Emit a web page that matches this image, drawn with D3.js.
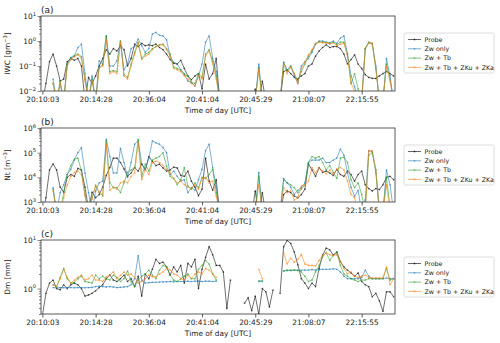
<!DOCTYPE html>
<html>
<head>
<meta charset="utf-8">
<script src="https://cdn.jsdelivr.net/npm/d3@7"></script>
<style>
  body { margin: 0; background: #fff; }
  text { font-family: "DejaVu Sans", sans-serif; fill: #222; }
</style>
</head>
<body>
<script>
const width = 500;
const height = 343;
const _ = null;

// sample index of each labelled tick and its label
const timeTicks = [0, 15, 30, 45, 60, 75, 90];
const timeLabels = ['20:10:03', '20:14:28', '20:36:04', '20:41:04', '20:45:29', '21:08:07', '22:15:55'];

const seriesNames = ['Probe', 'Zw only', 'Zw + Tb', 'Zw + Tb + ZKu + ZKa'];
const seriesColors = ['#000000', '#1f77b4', '#2ca02c', '#ff7f0e'];

// (a) IWC [g m-3]
const iwcProbe = [
  0.004, 0.02, 0.15, 0.3, 0.1, 0.025, 0.03, 0.15, 0.2, 0.17,
  0.2, 0.1, 0.004, 0.035, 0.02, 0.04, 0.1, 0.2, 0.45, 0.3,
  0.5, 0.4, 0.65, 0.45, 0.1, 0.2, 0.75, 0.6, 0.8, 0.65,
  0.7, 0.65, 0.75, 0.55, 0.45, 0.3, 0.18, 0.13, 0.12, 0.17,
  0.08, 0.04, 0.028, 0.04, 0.05, 0.012, 0.12, 0.03, 0.05, 0.2,
  0.004, 0.004, 0.004, 0.004, 0.004, 0.004, 0.004, 0.004, 0.004, 0.004,
  0.012, 0.004, 0.025, 0.004, 0.004, 0.004, 0.004, 0.004, 0.06, 0.07,
  0.05, 0.035, 0.03, 0.04, 0.05, 0.1, 0.12, 0.25, 0.4, 0.55,
  0.7, 0.55, 0.6, 0.6, 0.5, 0.3, 0.12, 0.18, 0.28, 0.12,
  0.08, 0.045, 0.035, 0.032, 0.032, 0.04, 0.05, 0.06, 0.05, 0.04
];
const iwcZw = [
  _, _, _, 0.03, 0.004, 0.02, 0.004, 0.12, 0.22, 0.25,
  0.55, 0.75, 0.05, 0.004, 0.04, 0.004, 0.16, 0.12, 1.6, 0.1,
  0.1, 0.16, 1.0, 0.07, 0.12, 0.5, 0.6, 1.2, 0.65, 0.35,
  0.5, 1.9, 2.2, 1.7, 1.6, 1.1, 0.25, 0.14, 0.12, 0.07,
  0.05, 0.025, 0.022, 0.016, 0.04, 0.12, 0.9, 1.6, 0.2, 0.06,
  0.004, _, _, _, _, _, _, _, _, _,
  0.004, 0.12, 0.004, _, _, _, _, 0.004, 0.14, 0.07,
  0.1, 0.04, 0.02, 0.1, 0.15, 0.2, 0.35, 0.75, 1.0, 1.0,
  0.9, 0.85, 1.0, 0.8, 1.3, 1.6, 0.3, 0.04, 0.015, 0.004,
  0.004, 0.5, 0.9, 0.8, 0.1, 0.004, 0.004, 0.2, 0.04, 0.004
];
const iwcZwTb = [
  _, _, _, 0.02, 0.004, 0.025, 0.004, 0.12, 0.2, 0.26,
  0.3, 0.24, 0.03, 0.004, 0.03, 0.004, 0.09, 0.11, 1.6, 0.06,
  0.065, 0.06, 1.0, 0.045, 0.035, 0.12, 0.35, 0.9, 0.2, 0.3,
  0.35, 0.5, 0.6, 0.7, 0.75, 0.5, 0.3, 0.09, 0.08, 0.07,
  0.045, 0.04, 0.022, 0.02, 0.05, 0.035, 0.3, 0.45, 0.15, 0.04,
  0.004, _, _, _, _, _, _, _, _, _,
  0.004, 0.09, 0.004, _, _, _, _, 0.004, 0.14, 0.06,
  0.1, 0.05, 0.025, 0.06, 0.12, 0.25, 0.4, 0.75, 0.95, 0.9,
  0.85, 0.8, 0.9, 0.7, 0.9, 0.9, 0.3, 0.02, 0.05, 0.012,
  0.004, 0.5, 0.85, 0.75, 0.08, 0.004, 0.004, 0.12, 0.03, 0.004
];
const iwcAll = [
  _, _, _, 0.02, 0.004, 0.02, 0.004, 0.1, 0.18, 0.23,
  0.28, 0.2, 0.025, 0.004, 0.025, 0.004, 0.08, 0.1, 1.1, 0.05,
  0.06, 0.05, 0.9, 0.04, 0.03, 0.1, 0.3, 0.85, 0.18, 0.25,
  0.3, 0.45, 0.6, 0.7, 0.7, 0.45, 0.25, 0.08, 0.07, 0.06,
  0.04, 0.03, 0.02, 0.016, 0.04, 0.03, 0.25, 0.4, 0.12, 0.03,
  0.004, _, _, _, _, _, _, _, _, _,
  0.004, 0.07, 0.004, _, _, _, _, 0.004, 0.12, 0.05,
  0.09, 0.05, 0.02, 0.08, 0.14, 0.28, 0.45, 0.8, 0.9, 0.85,
  0.85, 0.75, 0.85, 0.65, 0.75, 0.8, 0.25, 0.02, 0.01, 0.004,
  0.004, 0.45, 0.85, 0.8, 0.07, 0.004, 0.004, 0.1, 0.025, 0.004
];

// (b) Nt [m-3]
const ntProbe = [
  300, 1500, 2e4, 3.5e4, 2e4, 4000, 2500, 1e4, 1.3e4, 1.1e4,
  2.3e4, 2e4, 4000, 500, 2500, 1500, 2000, 4000, 1.2e4, 2.5e4,
  6e4, 6e4, 4e4, 2.2e4, 1.1e4, 1.5e4, 2.5e4, 1.8e4, 3.5e4, 2e4,
  7e4, 4.5e4, 3e4, 3.4e4, 2.4e4, 1.8e4, 2e4, 2.6e4, 2.4e4, 1.2e4,
  1.1e4, 1.8e4, 7000, 4000, 1800, 3300, 6e4, 7000, 3000, 8000,
  300, 300, 300, 300, 300, 300, 300, 300, 300, 300,
  2800, 300, 2400, 300, 300, 300, 300, 300, 2000, 2800,
  2400, 1750, 1500, 2000, 3300, 3.5e4, 2e4, 1.1e4, 2.5e4, 1.6e4,
  1.8e4, 1.5e4, 1.2e4, 2.1e4, 1.3e4, 1.1e4, 1.8e4, 1.3e4, 7000, 1.3e4,
  1.8e4, 5000, 3500, 2800, 3500, 3200, 5000, 1e4, 1.1e4, 8000
];
const ntZw = [
  _, _, _, 3800, 400, 2400, 5000, 1.3e4, 2.1e4, 5e4,
  1e5, 1.6e5, 1.5e4, 2400, 400, 2800, 6000, 7000, 3.5e5, 7e4,
  1.5e4, 1.5e4, 1.5e5, 4e4, 1e4, 4e4, 2.2e5, 3e5, 3.5e4, 2.1e4,
  6e4, 3e5, 2.5e5, 2.2e5, 1.6e5, 1e5, 1.3e4, 1.8e4, 1.1e4, 7000,
  8000, 2400, 3800, 3000, 8000, 2.1e4, 1.2e5, 2.2e5, 2.5e4, 4000,
  400, _, _, _, _, _, _, _, _, _,
  400, 1.6e4, 400, _, _, _, _, 400, 9000, 6000,
  4000, 2000, 3000, 3800, 6000, 4e4, 5e4, 5e4, 5e4, 6e4,
  4e4, 4e4, 5e4, 6e4, 1.4e5, 8e4, 1.5e4, 4000, 1700, 3000,
  400, 1200, 1.2e5, 1.1e5, 2e4, 400, 400, 2e4, 5000, 400
];
const ntZwTb = [
  _, _, _, 3300, 400, 400, 2400, 1.3e4, 3e4, 5.5e4,
  6e4, 1.8e4, 2000, 400, 1500, 4500, 2400, 1750, 3e5, 6000,
  3800, 3800, 2400, 6000, 1.6e4, 2e4, 2.5e4, 3.5e5, 1.1e4, 3.4e4,
  1.8e4, 5e4, 6e4, 7e4, 1e5, 2.8e4, 1.1e4, 9000, 5000, 8000,
  2.5e4, 4500, 3300, 6000, 3800, 1e4, 9000, 1.3e4, 2.1e4, 2400,
  400, _, _, _, _, _, _, _, _, _,
  400, 1.1e4, 400, _, _, _, _, 400, 8000, 6000,
  5000, 3800, 2400, 3300, 5000, 4e4, 7e4, 6e4, 7e4, 4e4,
  2e4, 3e4, 1.6e4, 9000, 6e4, 6.5e4, 4e4, 8000, 3800, 6000,
  2000, 400, 8e4, 1e5, 1.5e4, 400, 400, 1e4, 600, 400
];
const ntAll = [
  _, _, _, 2800, 400, 400, 1500, 5000, 1.1e4, 1.6e4,
  1.8e4, 1.3e4, 1750, 400, 1300, 5000, 2500, 2000, 2.2e5, 3000,
  4000, 3300, 6000, 7000, 6000, 1.1e4, 1.5e4, 2.5e5, 8000, 2.1e4,
  1.3e4, 4e4, 4.5e4, 4e4, 3e4, 2.1e4, 1.5e4, 9000, 6000, 7000,
  5000, 4000, 3500, 5000, 3300, 9000, 1e4, 6000, 7000, 1700,
  400, _, _, _, _, _, _, _, _, _,
  400, 5000, 400, _, _, _, _, 400, 3800, 2400,
  2800, 1200, 1500, 4500, 5000, 7000, 2.5e4, 1.5e4, 2.5e4, 1.8e4,
  1.4e4, 2e4, 1.3e4, 2.1e4, 2.5e4, 2e4, 7000, 2000, 1500, 400,
  400, 400, 1.2e5, 1.2e5, 2e4, 400, 400, 5000, 400, 400
];

// (c) Dm [mm]
const dmProbe = [
  0.28, 0.8, 1.3, 1.5, 1.0, 0.95, 1.2, 1.0, 1.2, 1.3,
  1.2, 1.0, 0.7, 0.74, 0.8, 0.9, 1.05, 1.2, 1.6, 1.9,
  1.5, 1.4, 1.6, 1.9, 1.4, 1.6, 1.1, 1.8, 0.7, 2.0,
  1.6, 2.5, 4.0, 3.3, 3.5, 2.8, 1.9, 2.8, 2.2, 3.0,
  1.3, 3.3, 2.8, 4.0, 1.0, 2.5, 4.4, 7.3, 5.0, 3.0,
  3.0, 2.2, 0.39, 1.5, _, _, _, 0.5, 0.65, 0.35,
  0.7, 0.3, 1.0, 0.86, 0.42, 0.93, _, 0.8, 7.3, 9.8,
  8.5, 5.7, 3.1, 1.6, 1.3, 1.0, 1.3, 1.1, 2.6, 4.9,
  6.8, 6.3, 4.9, 5.7, 3.6, 2.8, 2.4, 2.1, 1.8, 2.1,
  1.4, 1.2, 1.1, 0.68, 0.8, 0.56, 0.34, 0.86, 0.86, 0.68
];
const dmZw = [
  _, _, _, 1.05, 1.04, 1.05, 1.04, 1.05, 1.05, 1.04,
  1.05, 1.05, 1.04, 1.05, 1.06, 1.1, 1.12, 1.1, 1.08, 1.1,
  1.08, 1.05, 1.06, 1.08, 1.1, 1.2, 1.6, 4.8, 1.5, 1.3,
  1.32, 1.35, 1.35, 1.36, 1.38, 1.38, 1.4, 1.38, 1.4, 1.4,
  1.4, 1.42, 1.4, 1.42, 1.42, 1.4, 1.42, 1.42, 1.4, 1.42,
  _, _, _, _, _, _, _, _, _, _,
  _, 1.4, 1.45, _, _, _, _, _, 2.3, 2.35,
  2.35, 2.4, 2.35, 2.4, 2.4, 2.4, 2.45, 2.4, 2.45, 2.5,
  2.5, 2.5, 2.55, 2.5, 2.2, 1.8, 1.6, 1.6, 1.6, 1.6,
  1.7, 2.4, 1.8, 1.6, 1.6, 1.6, 1.6, 1.65, 1.6, 1.6
];
const dmZwTb = [
  _, _, _, 1.2, 1.1, 1.7, 2.6, 1.6, 1.3, 1.35,
  1.6, 1.8, 1.4, 1.35, 1.3, 1.9, 1.6, 1.8, 1.6, 1.5,
  1.9, 1.7, 1.4, 1.6, 2.3, 1.4, 1.1, 1.5, 1.8, 2.0,
  2.4, 1.9, 1.6, 2.4, 3.0, 2.8, 1.9, 1.5, 1.4, 1.6,
  1.8, 2.0, 1.6, 1.6, 2.5, 3.0, 3.8, 3.2, 2.0, 1.5,
  _, _, _, _, _, _, _, _, _, _,
  _, 1.45, 1.4, _, _, _, _, _, 2.3, 2.4,
  2.4, 2.4, 2.4, 2.2, 1.8, 1.4, 1.5, 2.2, 3.0, 4.5,
  5.5, 3.8, 4.8, 5.5, 3.0, 2.0, 1.8, 1.6, 1.5, 1.4,
  1.5, 1.5, 1.6, 1.6, 1.6, 1.6, 1.6, 2.6, 1.5, 1.6
];
const dmAll = [
  _, _, _, 1.2, 1.1, 1.6, 2.5, 1.7, 1.3, 1.5,
  1.7, 1.9, 1.5, 1.6, 1.9, 1.5, 1.5, 1.4, 1.75, 1.9,
  2.2, 1.6, 1.9, 2.2, 1.9, 2.0, 1.7, 1.3, 1.4, 1.6,
  1.9, 1.75, 1.75, 2.0, 2.2, 2.6, 2.4, 2.0, 1.9, 1.6,
  1.5, 1.9, 1.6, 2.0, 2.2, 2.0, 2.6, 2.4, 2.0, 1.7,
  _, _, _, _, _, _, _, _, _, _,
  _, 2.5, 1.6, _, _, _, _, _, 5.5, 3.2,
  4.2, 3.5, 4.0, 5.0, 3.2, 3.0, 3.0, 2.9, 3.8, 4.8,
  5.4, 5.0, 4.8, 5.0, 3.6, 2.6, 2.0, 2.2, 1.8, 1.7,
  1.8, 1.9, 1.7, 1.65, 1.65, 1.65, 1.65, 2.8, 1.2, 1.6
];

const panels = [
  { tag: '(a)', label: ['IWC [gm', '\u22123', ']'], domain: [0.01, 10], top: 16, bottom: 91,
    series: [iwcProbe, iwcZw, iwcZwTb, iwcAll] },
  { tag: '(b)', label: ['Nt [m', '\u22123', ']'], domain: [1e3, 1e6], top: 128, bottom: 202,
    series: [ntProbe, ntZw, ntZwTb, ntAll] },
  { tag: '(c)', label: ['Dm [mm]'], domain: [0.3, 10], top: 240, bottom: 314,
    series: [dmProbe, dmZw, dmZwTb, dmAll] },
];

const left = 41;
const right = 395;
const fontSize = 7.4;
const lineOpacity = [0.6, 0.6, 0.6, 0.6];

const svg = d3.select('body')
  .append('svg')
    .attr('width', width)
    .attr('height', height);

const x = d3.scaleLinear()
  .domain([-0.4, iwcProbe.length - 0.6])
  .range([left, right]);

const logTicks = (lo, hi) => {
  const major = [];
  const minor = [];
  for (let e = Math.floor(Math.log10(lo)); e <= Math.ceil(Math.log10(hi)); e++) {
    for (let m = 1; m < 10; m++) {
      const v = m * Math.pow(10, e);
      if (v < lo * 0.999 || v > hi * 1.001) continue;
      (m === 1 ? major : minor).push(v);
    }
  }
  return { major, minor };
};

panels.forEach((p, k) => {
  const y = d3.scaleLog().domain(p.domain).range([p.bottom, p.top]);
  const g = svg.append('g');

  svg.append('clipPath')
    .attr('id', 'clip' + k)
    .append('rect')
      .attr('x', left)
      .attr('y', p.top)
      .attr('width', right - left)
      .attr('height', p.bottom - p.top);

  const plot = g.append('g').attr('clip-path', `url(#clip${k})`);

  const line = d3.line()
    .defined((d) => d != null)
    .x((d, i) => x(i))
    .y((d) => y(d));

  p.series.forEach((values, s) => {
    plot.append('path')
      .attr('d', line(values))
      .attr('fill', 'none')
      .attr('stroke', seriesColors[s])
      .attr('stroke-opacity', lineOpacity[s])
      .attr('stroke-width', 0.95)
      .attr('stroke-linejoin', 'round');

    plot.append('g')
      .selectAll('circle')
      .data(values.map((v, i) => [i, v]).filter((d) => d[1] != null))
      .join('circle')
        .attr('cx', (d) => x(d[0]))
        .attr('cy', (d) => y(d[1]))
        .attr('r', 0.85)
        .attr('fill', seriesColors[s])
        .attr('fill-opacity', lineOpacity[s]);
  });

  // frame
  g.append('rect')
    .attr('x', left)
    .attr('y', p.top)
    .attr('width', right - left)
    .attr('height', p.bottom - p.top)
    .attr('fill', 'none')
    .attr('stroke', '#333')
    .attr('stroke-width', 0.8);

  // x axis
  const xAxis = g.append('g')
    .attr('transform', `translate(0,${p.bottom})`)
    .call(d3.axisBottom(x)
      .tickValues(timeTicks)
      .tickFormat((d, i) => timeLabels[i])
      .tickSize(3.5)
      .tickPadding(1.8));
  xAxis.select('.domain').remove();
  xAxis.selectAll('line').attr('stroke', '#333').attr('stroke-width', 0.8);
  xAxis.selectAll('text')
    .attr('font-family', '"DejaVu Sans", sans-serif')
    .attr('font-size', fontSize)
    .attr('fill', '#222');

  g.append('text')
    .attr('x', (left + right) / 2)
    .attr('y', p.bottom + 21.5)
    .attr('text-anchor', 'middle')
    .attr('font-size', fontSize)
    .text('Time of day [UTC]');

  // y axis
  const ticks = logTicks(p.domain[0], p.domain[1]);
  const yMajor = g.append('g')
    .attr('transform', `translate(${left},0)`)
    .call(d3.axisLeft(y).tickValues(ticks.major).tickFormat('').tickSize(3.5));
  const yMinor = g.append('g')
    .attr('transform', `translate(${left},0)`)
    .call(d3.axisLeft(y).tickValues(ticks.minor).tickFormat('').tickSize(2));
  [yMajor, yMinor].forEach((a) => {
    a.select('.domain').remove();
    a.selectAll('line').attr('stroke', '#333').attr('stroke-width', 0.6);
  });

  ticks.major.forEach((v) => {
    const t = g.append('text')
      .attr('x', left - 5)
      .attr('y', y(v) + 3)
      .attr('text-anchor', 'end')
      .attr('font-size', fontSize);
    t.append('tspan').text('10');
    t.append('tspan')
      .attr('dy', -3.4)
      .attr('font-size', 5.2)
      .text(String(Math.round(Math.log10(v))).replace('-', '\u2212'));
  });

  const yl = g.append('text')
    .attr('transform', `translate(10,${(p.top + p.bottom) / 2}) rotate(-90)`)
    .attr('text-anchor', 'middle')
    .attr('font-size', fontSize);
  yl.append('tspan').text(p.label[0]);
  if (p.label.length > 1) {
    yl.append('tspan').attr('dy', -3).attr('font-size', 5.2).text(p.label[1]);
    yl.append('tspan').attr('dy', 3).text(p.label[2]);
  }

  g.append('text')
    .attr('x', left)
    .attr('y', p.top - 3.5)
    .attr('font-size', 9)
    .text(p.tag);

  // legend
  const lx = 404;
  const ly = p.top + 17;
  const legend = g.append('g');
  legend.append('rect')
    .attr('x', lx)
    .attr('y', ly)
    .attr('width', 90)
    .attr('height', 40)
    .attr('rx', 2)
    .attr('fill', '#fff')
    .attr('stroke', '#d4d4d4')
    .attr('stroke-width', 0.8);

  seriesNames.forEach((name, s) => {
    const ry = ly + 6.5 + 9.3 * s;
    legend.append('line')
      .attr('x1', lx + 4)
      .attr('x2', lx + 17)
      .attr('y1', ry)
      .attr('y2', ry)
      .attr('stroke', seriesColors[s])
      .attr('stroke-opacity', lineOpacity[s])
      .attr('stroke-width', 1);
    legend.append('circle')
      .attr('cx', lx + 10.5)
      .attr('cy', ry)
      .attr('r', 0.9)
      .attr('fill', seriesColors[s])
      .attr('fill-opacity', lineOpacity[s]);
    legend.append('text')
      .attr('x', lx + 20.5)
      .attr('y', ry + 2.3)
      .attr('font-size', 6.3)
      .text(name);
  });
});
</script>
</body>
</html>
